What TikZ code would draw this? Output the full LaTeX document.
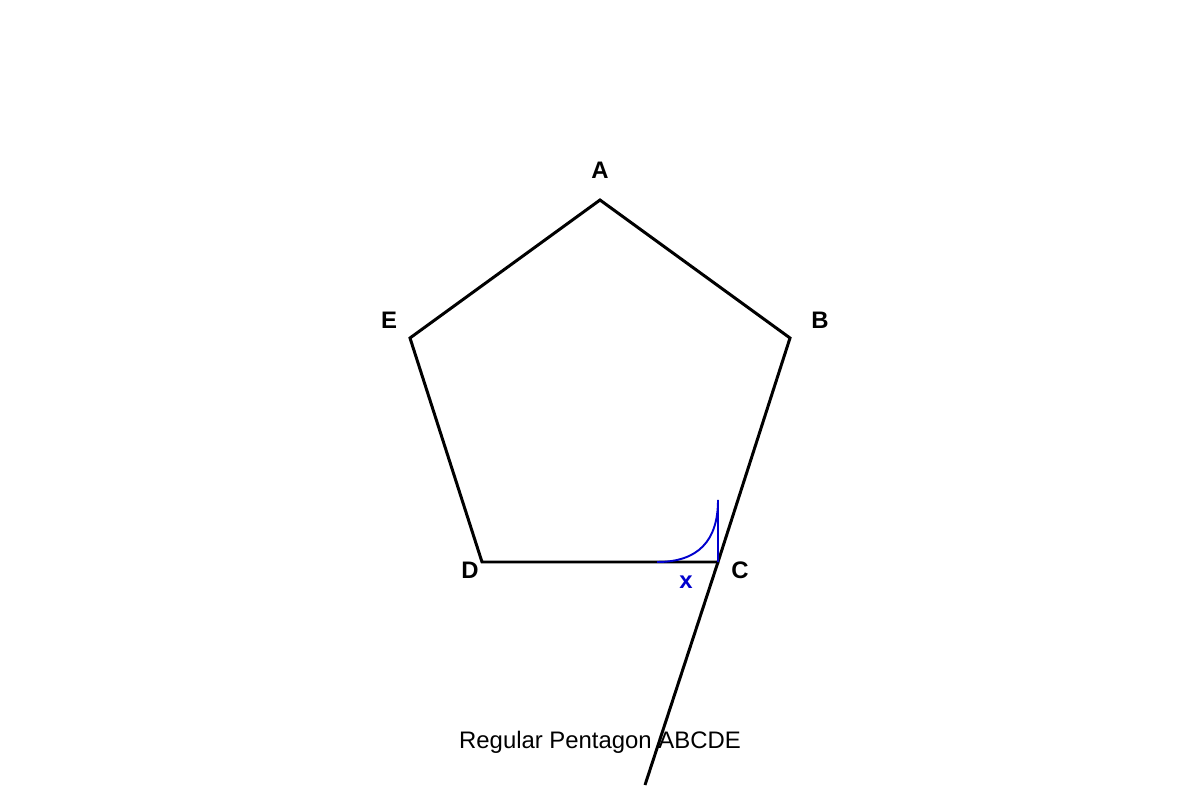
\documentclass[tikz,border=0pt]{standalone}
\usepackage{fontspec}
\setmainfont{Liberation Sans}
\usetikzlibrary{positioning}
\definecolor{anglecol}{RGB}{0,0,205}
\tikzset{
  edge/.style={line width=1.7pt, line join=miter},
  vlabel/.style={font=\fontsize{13.6}{15}\selectfont\bfseries},
  anglemark/.style={draw=anglecol, line width=1.1pt}
}

\begin{document}
\begin{tikzpicture}[x=0.02cm,y=-0.02cm]
   \useasboundingbox (0,0) rectangle (1200,800);
   % vertices
   \coordinate (A) at (600,200);
   \coordinate (B) at (790,338);
   \coordinate (C) at (718,562);
   \coordinate (D) at (482,562);
   \coordinate (E) at (410,338);
   \coordinate (ext) at (645,785);
   \draw[edge] (A) -- (B) -- (C) -- (D) -- (E) -- cycle;
   \draw[edge] (C) -- (ext);
   % angle x
   \coordinate (xa) at (657,562);
   \coordinate (xb) at (718,500);
   \draw[anglemark] (xa) .. controls (698,562) and (718,541) .. (xb) -- (C);
   \node[vlabel] (lA) at (600,170) {A};
   \node[vlabel] (lB) at (820,320) {B};
   \node[vlabel] (lC) at (740,570) {C};
   \node[vlabel] (lD) at (470,570) {D};
   \node[vlabel] (lE) at (389,320) {E};
   \node[vlabel, text=anglecol] (lx) at (686,582) {x};
   \node[font=\fontsize{13.6}{15}\selectfont] (title) at (600,742) {Regular Pentagon ABCDE};
\end{tikzpicture}
\end{document}
